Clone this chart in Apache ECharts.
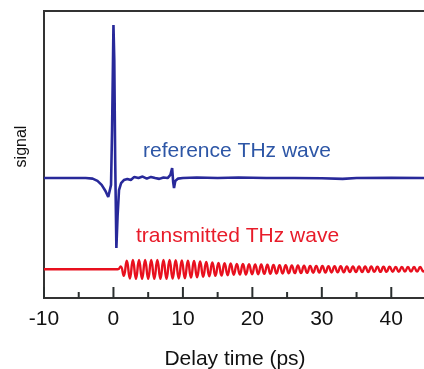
<!DOCTYPE html>
<html>
<head>
<meta charset="utf-8">
<style>
html,body{margin:0;padding:0;background:#fff;}
#chart{width:424px;height:369px;}
</style>
<script src="https://cdn.jsdelivr.net/npm/echarts@6/dist/echarts.min.js"></script>
</head>
<body>
<div id="chart"></div>
<script>
// ---- data (x: delay time in ps, y: signal in arbitrary units) ----
var xAxisTitle = 'Delay time (ps)';
var yAxisTitle = 'signal';
var referenceLabel = 'reference THz wave';
var transmittedLabel = 'transmitted THz wave';
var majorTicks = [-10, 0, 10, 20, 30, 40];
var minorTicks = [-5, 5, 15, 25, 35];

var referenceWave = [
  [-10, 4.18], [-6, 4.18], [-4, 4.18], [-3.0, 4.16], [-2.3, 4.08], [-1.7, 3.94],
  [-1.15, 3.73], [-0.75, 3.52], [-0.55, 3.55], [-0.35, 3.94], [-0.2, 5.85],
  [0.0, 9.51], [0.12, 8.29], [0.25, 4.81], [0.42, 1.74], [0.6, 2.89], [0.8, 3.76],
  [1.1, 4.0], [1.5, 4.11], [2.0, 4.15], [2.5, 4.11], [3.0, 4.22], [3.6, 4.18],
  [4.2, 4.23], [4.8, 4.16], [5.4, 4.22], [6.0, 4.18], [6.6, 4.15], [7.2, 4.20],
  [7.8, 4.18], [8.2, 4.29], [8.45, 4.53], [8.6, 4.04], [8.72, 3.83], [8.9, 4.08],
  [9.3, 4.16], [10, 4.18], [12, 4.20], [15, 4.18], [18, 4.20], [22, 4.18],
  [26, 4.18], [30, 4.17], [33, 4.15], [35, 4.18], [40, 4.19], [45, 4.18]
];

var transmittedWave = [
  [-10, 1.0], [0.60, 1.00], [1.04, 1.10], [1.48, 0.77], [1.92, 1.30], [2.36, 0.68],
  [2.80, 1.33], [3.24, 0.67], [3.68, 1.33], [4.12, 0.67], [4.56, 1.33], [5.00, 0.67],
  [5.44, 1.33], [5.88, 0.67], [6.32, 1.33], [6.76, 0.67], [7.20, 1.33], [7.64, 0.67],
  [8.08, 1.33], [8.52, 0.675], [8.96, 1.32], [9.40, 0.68], [9.84, 1.31], [10.28, 0.69],
  [10.72, 1.30], [11.16, 0.71], [11.60, 1.29], [12.04, 0.72], [12.48, 1.27], [12.92, 0.74],
  [13.36, 1.255], [13.80, 0.755], [14.24, 1.24], [14.68, 0.77], [15.12, 1.225], [15.56, 0.78],
  [16.00, 1.21], [16.44, 0.795], [16.88, 1.20], [17.32, 0.805], [17.76, 1.19], [18.20, 0.815],
  [18.64, 1.185], [19.08, 0.82], [19.52, 1.18], [19.96, 0.825], [20.40, 1.17], [20.84, 0.83],
  [21.28, 1.165], [21.72, 0.84], [22.16, 1.16], [22.60, 0.845], [23.04, 1.15], [23.48, 0.85],
  [23.92, 1.145], [24.36, 0.855], [24.80, 1.14], [25.24, 0.86], [25.68, 1.135], [26.12, 0.865],
  [26.56, 1.13], [27.00, 0.87], [27.44, 1.125], [27.88, 0.875], [28.32, 1.12], [28.76, 0.88],
  [29.20, 1.12], [29.64, 0.885], [30.08, 1.115], [30.52, 0.885], [30.96, 1.11], [31.40, 0.89],
  [31.84, 1.11], [32.28, 0.895], [32.72, 1.105], [33.16, 0.895], [33.60, 1.10], [34.04, 0.90],
  [34.48, 1.10], [34.92, 0.90], [35.36, 1.10], [35.80, 0.905], [36.24, 1.095], [36.68, 0.905],
  [37.12, 1.095], [37.56, 0.91], [38.00, 1.09], [38.44, 0.91], [38.88, 1.09], [39.32, 0.91],
  [39.76, 1.09], [40.20, 0.915], [40.64, 1.085], [41.08, 0.915], [41.52, 1.085], [41.96, 0.92],
  [42.40, 1.08], [42.84, 0.92], [43.28, 1.08], [43.72, 0.92], [44.16, 1.08], [44.60, 0.925],
  [45.04, 1.075]
];

var xMin = -10, xMax = 45, yMin = 0, yMax = 10;

var chart = echarts.init(document.getElementById('chart'));
var FONT = 'Liberation Sans';
var frameColor = '#333';
var tickColor = '#2a2f2f';

// tick marks drawn through the axis scale (api.coord), pointing up from the x axis
function tickRenderer(len) {
  return function (params, api) {
    var p = api.coord([api.value(0), yMin]);
    return {
      type: 'line',
      shape: {x1: p[0], y1: p[1], x2: p[0], y2: p[1] - len},
      style: {stroke: tickColor, lineWidth: 2},
      z2: 100
    };
  };
}

var option = {
  animation: false,
  grid: {
    left: 44, right: -2, top: 11, bottom: 71,
    outerBoundsMode: 'none', containLabel: false,
    show: true, borderColor: frameColor, borderWidth: 2, backgroundColor: 'transparent'
  },
  xAxis: {
    type: 'value', min: xMin, max: xMax, interval: 10, position: 'bottom',
    axisLine: {show: true, onZero: false, lineStyle: {color: frameColor, width: 2}},
    axisTick: {show: false},
    splitLine: {show: false},
    axisLabel: {show: true, fontSize: 21, color: '#111', fontFamily: FONT, margin: 11, showMaxLabel: false},
    name: xAxisTitle, nameLocation: 'middle', nameGap: 51,
    nameTextStyle: {color: '#111', fontSize: 21, fontFamily: FONT}
  },
  yAxis: {
    type: 'value', min: yMin, max: yMax,
    axisLine: {show: false}, axisTick: {show: false}, axisLabel: {show: false},
    splitLine: {show: false},
    name: yAxisTitle, nameLocation: 'middle', nameGap: 14, nameRotate: 90,
    nameTextStyle: {color: '#111', fontSize: 16, fontFamily: FONT, padding: [0, 0, 0, 16]}
  },
  series: [
    {
      type: 'line', data: transmittedWave, smooth: true,
      showSymbol: false, symbol: 'none',
      lineStyle: {color: '#e8101e', width: 2.4}
    },
    {
      type: 'line', data: referenceWave, smooth: false,
      showSymbol: false, symbol: 'none',
      lineStyle: {color: '#28299a', width: 2.6}
    },
    {
      type: 'custom', clip: false, z: 10, silent: true,
      data: majorTicks.map(function (v) { return [v]; }),
      encode: {x: 0},
      renderItem: tickRenderer(11)
    },
    {
      type: 'custom', clip: false, z: 10, silent: true,
      data: minorTicks.map(function (v) { return [v]; }),
      encode: {x: 0},
      renderItem: tickRenderer(6)
    }
  ],
  graphic: [
    {type: 'text', left: 143, top: 141,
     style: {text: referenceLabel, fill: '#2d56a6', font: '21px "Liberation Sans", Arial, sans-serif'}},
    {type: 'text', left: 136, top: 226,
     style: {text: transmittedLabel, fill: '#e81c2a', font: '21px "Liberation Sans", Arial, sans-serif'}}
  ]
};
chart.setOption(option);
</script>
</body>
</html>
